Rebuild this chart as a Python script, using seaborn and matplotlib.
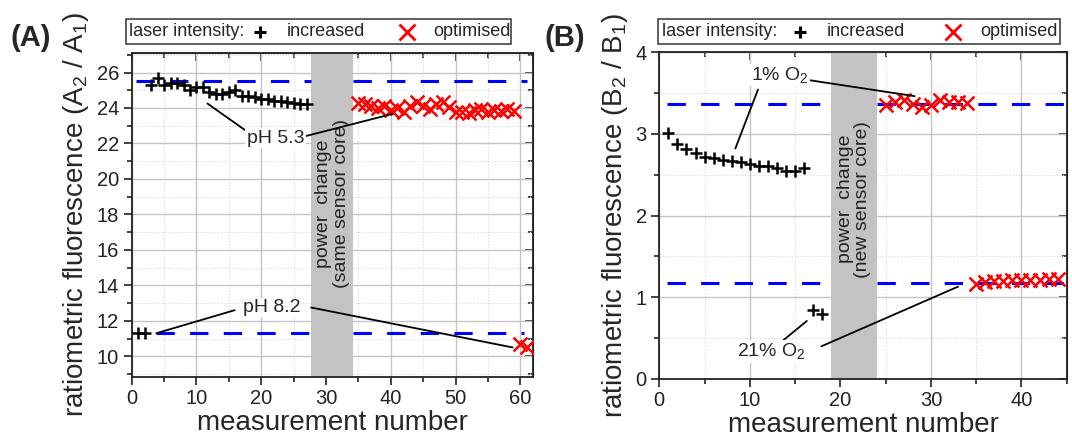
import numpy as np
import matplotlib
matplotlib.use("Agg")
import matplotlib.pyplot as plt
import seaborn as sns
from matplotlib.lines import Line2D
from matplotlib.patches import Rectangle
from matplotlib.transforms import Affine2D
from matplotlib.ticker import MultipleLocator

sns.set_style("white")
plt.rcParams['font.family'] = ['Liberation Sans', 'DejaVu Sans']
plt.rcParams['mathtext.fontset'] = 'custom'
plt.rcParams['mathtext.rm'] = 'Liberation Sans'
plt.rcParams['mathtext.it'] = 'Liberation Sans'

# ---- panel A data (pH sensor) ----
a_inc_x = list(range(3, 28))
a_inc_y = [25.3, 25.7, 25.3, 25.4, 25.4, 25.3, 25.0, 25.2, 25.2, 24.9, 24.8, 24.8, 24.9,
           25.0, 24.7, 24.7, 24.6, 24.5, 24.5, 24.4, 24.4, 24.35, 24.3, 24.2, 24.2]
a_inc2_x = [1, 2]
a_inc2_y = [11.3, 11.3]
a_opt_x = list(range(35, 60))
a_opt_y = [24.3, 24.2, 24.1, 24.0, 24.1, 23.9, 24.0, 23.75, 24.1, 24.35, 24.1, 23.95, 24.2,
           24.35, 24.05, 23.75, 23.75, 23.7, 23.9, 23.95, 23.75, 23.9, 23.85, 23.95, 23.85]
a_opt2_x = [60, 61]
a_opt2_y = [10.7, 10.5]
a_ref_hi = 25.5
a_ref_lo = 11.3
a_band = (27.7, 34.2)

# ---- panel B data (O2 sensor) ----
b_inc_x = list(range(1, 17))
b_inc_y = [3.01, 2.88, 2.81, 2.76, 2.72, 2.70, 2.68, 2.67, 2.66, 2.63, 2.61, 2.60,
           2.58, 2.55, 2.55, 2.58]
b_inc2_x = [17, 18]
b_inc2_y = [0.84, 0.80]
b_opt_x = list(range(25, 35))
b_opt_y = [3.35, 3.39, 3.41, 3.37, 3.33, 3.35, 3.41, 3.39, 3.39, 3.38]
b_opt2_x = list(range(35, 45))
b_opt2_y = [1.16, 1.19, 1.20, 1.20, 1.21, 1.21, 1.21, 1.21, 1.22, 1.22]
b_ref_hi = 3.36
b_ref_lo = 1.17
b_band = (19.0, 24.0)

W, H = 1072, 441
fig = plt.figure(figsize=(W / 100, H / 100), dpi=100)
px = Affine2D().scale(1 / W, -1 / H).translate(0, 1) + fig.transFigure

axA = fig.add_axes([131.7 / W, 1 - 376.7 / H, 401.6 / W, 323.7 / H])
axB = fig.add_axes([659.3 / W, 1 - 379.0 / H, 407.4 / W, 327.0 / H])


def style_axis(ax, xmaj, xmin, ymaj, ymin):
    ax.xaxis.set_major_locator(MultipleLocator(xmaj))
    ax.xaxis.set_minor_locator(MultipleLocator(xmin))
    ax.yaxis.set_major_locator(MultipleLocator(ymaj))
    ax.yaxis.set_minor_locator(MultipleLocator(ymin))
    ax.grid(which='major', color='#c4c4c4', lw=1.0, ls='-', zorder=0)
    ax.grid(which='minor', color='#d8d8d8', lw=0.8, ls=':', zorder=0)
    ax.set_axisbelow(True)
    ax.tick_params(which='both', bottom=True, left=True, top=False, right=False,
                   direction='out', labelsize=14.5, width=1.2, colors='#222222', pad=3)
    ax.tick_params(which='major', length=6)
    ax.tick_params(which='minor', length=3.5)
    # mirrored inward ticks on top/right
    ax2 = ax.secondary_xaxis('top')
    ax2.xaxis.set_major_locator(MultipleLocator(xmaj))
    ax2.xaxis.set_minor_locator(MultipleLocator(xmin))
    ax2.tick_params(which='both', direction='in', labeltop=False, width=1.2)
    ax2.tick_params(which='major', length=6)
    ax2.tick_params(which='minor', length=3.5)
    ax3 = ax.secondary_yaxis('right')
    ax3.yaxis.set_major_locator(MultipleLocator(ymaj))
    ax3.yaxis.set_minor_locator(MultipleLocator(ymin))
    ax3.tick_params(which='both', direction='in', labelright=False, width=1.2)
    ax3.tick_params(which='major', length=6)
    ax3.tick_params(which='minor', length=3.5)
    for s in ax.spines.values():
        s.set_linewidth(1.3)
        s.set_color('#222222')


def draw_panel(ax, band, refs, blacks, reds, band_text, band_y):
    ax.axvspan(band[0], band[1], color='#c3c3c3', zorder=1, lw=0)
    for (x0, x1, y) in refs:
        ax.plot([x0, x1], [y, y], color='#0000ff', lw=2.2, dashes=(6, 5), zorder=2)
    for bx, by in blacks:
        sns.scatterplot(x=bx, y=by, ax=ax, marker='+', s=75, color='black',
                        linewidth=1.8, zorder=4, legend=False)
    for rx, ry in reds:
        sns.scatterplot(x=rx, y=ry, ax=ax, marker='x', s=100, color='#ff0000',
                        linewidth=1.8, zorder=4, legend=False)
    ax.text(sum(band) / 2, band_y, band_text, rotation=90, ha='center', va='center',
            fontsize=14, color='#222222', zorder=3, linespacing=1.05)


def annotate(ax, text, tx, ty, lines):
    for (x0, y0, x1, y1) in lines:
        ax.plot([x0, x1], [y0, y1], color='black', lw=1.3, zorder=5)
    ax.text(tx, ty, text, ha='center', va='center', fontsize=14, zorder=6,
            bbox=dict(facecolor='white', edgecolor='none', pad=1.0))


def draw_key(x0, x1, y0, y1, x_txt, x_plus, x_inc, x_cross, x_opt):
    fig.add_artist(Rectangle((x0, y0), x1 - x0, y1 - y0, transform=px, fill=False,
                             edgecolor='#444444', lw=1.2))
    ym = (y0 + y1) / 2
    fig.text(x_txt, ym, 'laser intensity:', transform=px, ha='left', va='center', fontsize=13)
    fig.add_artist(Line2D([x_plus], [ym], transform=px, marker='+', color='black',
                          ms=9, mew=2.2, ls='none'))
    fig.text(x_inc, ym, 'increased', transform=px, ha='left', va='center', fontsize=13)
    fig.add_artist(Line2D([x_cross], [ym], transform=px, marker='x', color='#ff0000',
                          ms=11, mew=2.0, ls='none'))
    fig.text(x_opt, ym, 'optimised', transform=px, ha='left', va='center', fontsize=13)


# ---- panel A ----
draw_panel(axA, a_band,
           [(0.7, a_band[0], a_ref_hi), (a_band[1], 61.0, a_ref_hi),
            (3.8, a_band[0], a_ref_lo), (a_band[1], 60.5, a_ref_lo)],
           [(a_inc_x, a_inc_y), (a_inc2_x, a_inc2_y)],
           [(a_opt_x, a_opt_y), (a_opt2_x, a_opt2_y)],
           'power  change\n(same sensor core)', 18.6)
annotate(axA, 'pH 5.3', 22.2, 22.3,
         [(17.7, 22.7, 11.7, 24.25), (26.7, 22.4, 40.3, 23.67)])
annotate(axA, 'pH 8.2', 21.6, 12.75,
         [(15.9, 12.6, 3.8, 11.3), (27.7, 12.75, 58.8, 10.5)])
axA.set_xlim(0, 62)
axA.set_ylim(8.85, 27.1)
style_axis(axA, 10, 5, 2, 1)
axA.set_xlabel('measurement number', fontsize=20, labelpad=1)
axA.set_ylabel('ratiometric fluorescence (A$_2$ / A$_1$)', fontsize=20, labelpad=4)

# ---- panel B ----
draw_panel(axB, b_band,
           [(0.8, b_band[0], b_ref_hi), (b_band[1], 45, b_ref_hi),
            (0.8, b_band[0], b_ref_lo), (b_band[1], 45, b_ref_lo)],
           [(b_inc_x, b_inc_y), (b_inc2_x, b_inc2_y)],
           [(b_opt_x, b_opt_y), (b_opt2_x, b_opt2_y)],
           'power  change\n(new sensor core)', 2.2)
annotate(axB, '1% O$_2$', 13.3, 3.72,
         [(16.3, 3.66, 28.2, 3.46), (10.9, 3.54, 8.4, 2.82)])
annotate(axB, '21% O$_2$', 12.4, 0.34,
         [(13.1, 0.42, 16.3, 0.71), (17.9, 0.40, 33.0, 1.13)])
axB.set_xlim(0, 45)
axB.set_ylim(0, 4)
style_axis(axB, 10, 5, 1, 0.5)
axB.set_xlabel('measurement number', fontsize=20, labelpad=1)
axB.set_ylabel('ratiometric fluorescence (B$_2$ / B$_1$)', fontsize=20, labelpad=4)

# ---- keys and panel letters ----
draw_key(126, 511, 19.3, 44.3, 129, 260, 287, 407, 433)
draw_key(658, 1060, 19.0, 44.0, 662, 800, 827, 953, 980)
fig.text(10, 38, '(A)', transform=px, fontsize=21, fontweight='bold', ha='left', va='center')
fig.text(545, 38, '(B)', transform=px, fontsize=21, fontweight='bold', ha='left', va='center')

fig.savefig('out.png', dpi=100)
